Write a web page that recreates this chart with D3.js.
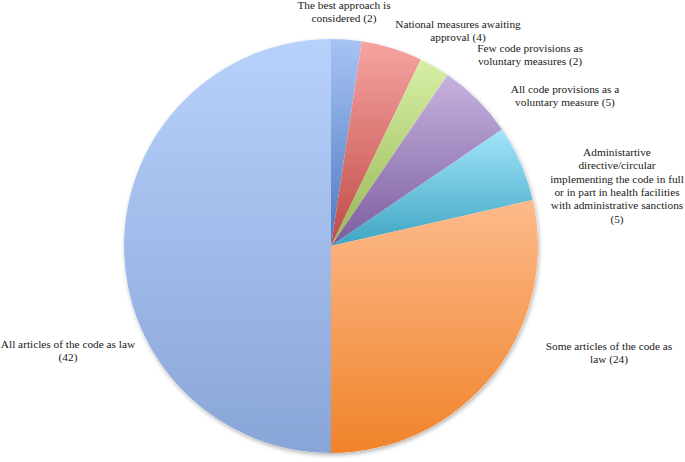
<!DOCTYPE html>
<html>
<head>
<meta charset="utf-8">
<script src="https://cdn.jsdelivr.net/npm/d3@7"></script>
<style>
  body { margin: 0; background: #fff; }
  svg text { font-family: "Liberation Serif", "DejaVu Serif", serif; font-size: 11.3px; fill: #1a1a1a; }
</style>
</head>
<body>
<svg id="chart"></svg>
<script>
// categories and values, clockwise from 12 o'clock
var categories = [
  "The best approach is considered",
  "National measures awaiting approval",
  "Few code provisions as voluntary measures",
  "All code provisions as a voluntary measure",
  "Administartive directive/circular implementing the code in full or in part in health facilities with administrative sanctions",
  "Some articles of the code as law",
  "All articles of the code as law"
]
var values = [2, 4, 2, 5, 5, 24, 42]

// label text as it is broken in the picture
var labelLines = [
  ["The best approach is", "considered (2)"],
  ["National measures awaiting", "approval (4)"],
  ["Few code provisions as", "voluntary measures (2)"],
  ["All code provisions as a", "voluntary measure (5)"],
  ["Administartive", "directive/circular", "implementing the code in full", "or in part in health facilities", "with administrative sanctions", "(5)"],
  ["Some articles of the code as", "law (24)"],
  ["All articles of the code as law", "(42)"]
]

// gradient colours, light (top) to dark (bottom)
var topColors = ["#a8c3f4", "#f6a4a1", "#d7efa6", "#c6b2df", "#a2e4fb", "#fdba8b", "#b8d1fc"]
var bottomColors = ["#4b79c0", "#bf4b48", "#96b653", "#7b5d9e", "#3fa5c2", "#f0832a", "#89a5d7"]

var width = 685
var height = 462
var cx = 331
var cy = 246
var radius = 207

var svg = d3.select("#chart")
    .attr("width", width)
    .attr("height", height)

var defs = svg.append("defs")

var shadow = defs.append("filter")
    .attr("id", "shadow")
    .attr("x", "-10%").attr("y", "-10%")
    .attr("width", "120%").attr("height", "120%")
shadow.append("feDropShadow")
    .attr("dx", 1).attr("dy", 2)
    .attr("stdDeviation", 2)
    .attr("flood-color", "#000")
    .attr("flood-opacity", 0.3)

values.forEach(function(v, i){
    var g = defs.append("linearGradient")
        .attr("id", "grad" + i)
        .attr("x1", 0).attr("y1", 0)
        .attr("x2", 0).attr("y2", 1)
    g.append("stop").attr("offset", "0%").attr("stop-color", topColors[i])
    g.append("stop").attr("offset", "100%").attr("stop-color", bottomColors[i])
})

var pie = d3.pie().sort(null).value(d => d)
var arcs = pie(values)

var arc = d3.arc().innerRadius(0).outerRadius(radius)

var pieGroup = svg.append("g")
    .attr("transform", "translate(" + cx + "," + cy + ")")

pieGroup.append("circle")
    .attr("r", radius)
    .attr("fill", "#fff")
    .attr("filter", "url(#shadow)")

pieGroup.selectAll("path")
    .data(arcs)
    .enter()
    .append("path")
    .attr("d", arc)
    .attr("fill", (d, i) => "url(#grad" + i + ")")

// label anchor points (centre of first line baseline)
var labelPos = [
    [344, 9],
    [458, 28],
    [530, 52],
    [565, 93],
    [617, 156],
    [609, 350],
    [68, 348]
]
var lineHeight = 13.3

var labels = svg.append("g")
labelLines.forEach(function(lines, i){
    var t = labels.append("text")
        .attr("text-anchor", "middle")
        .attr("x", labelPos[i][0])
        .attr("y", labelPos[i][1])
    lines.forEach(function(line, j){
        t.append("tspan")
            .attr("x", labelPos[i][0])
            .attr("y", labelPos[i][1] + j * lineHeight)
            .text(line)
    })
})
</script>
</body>
</html>
